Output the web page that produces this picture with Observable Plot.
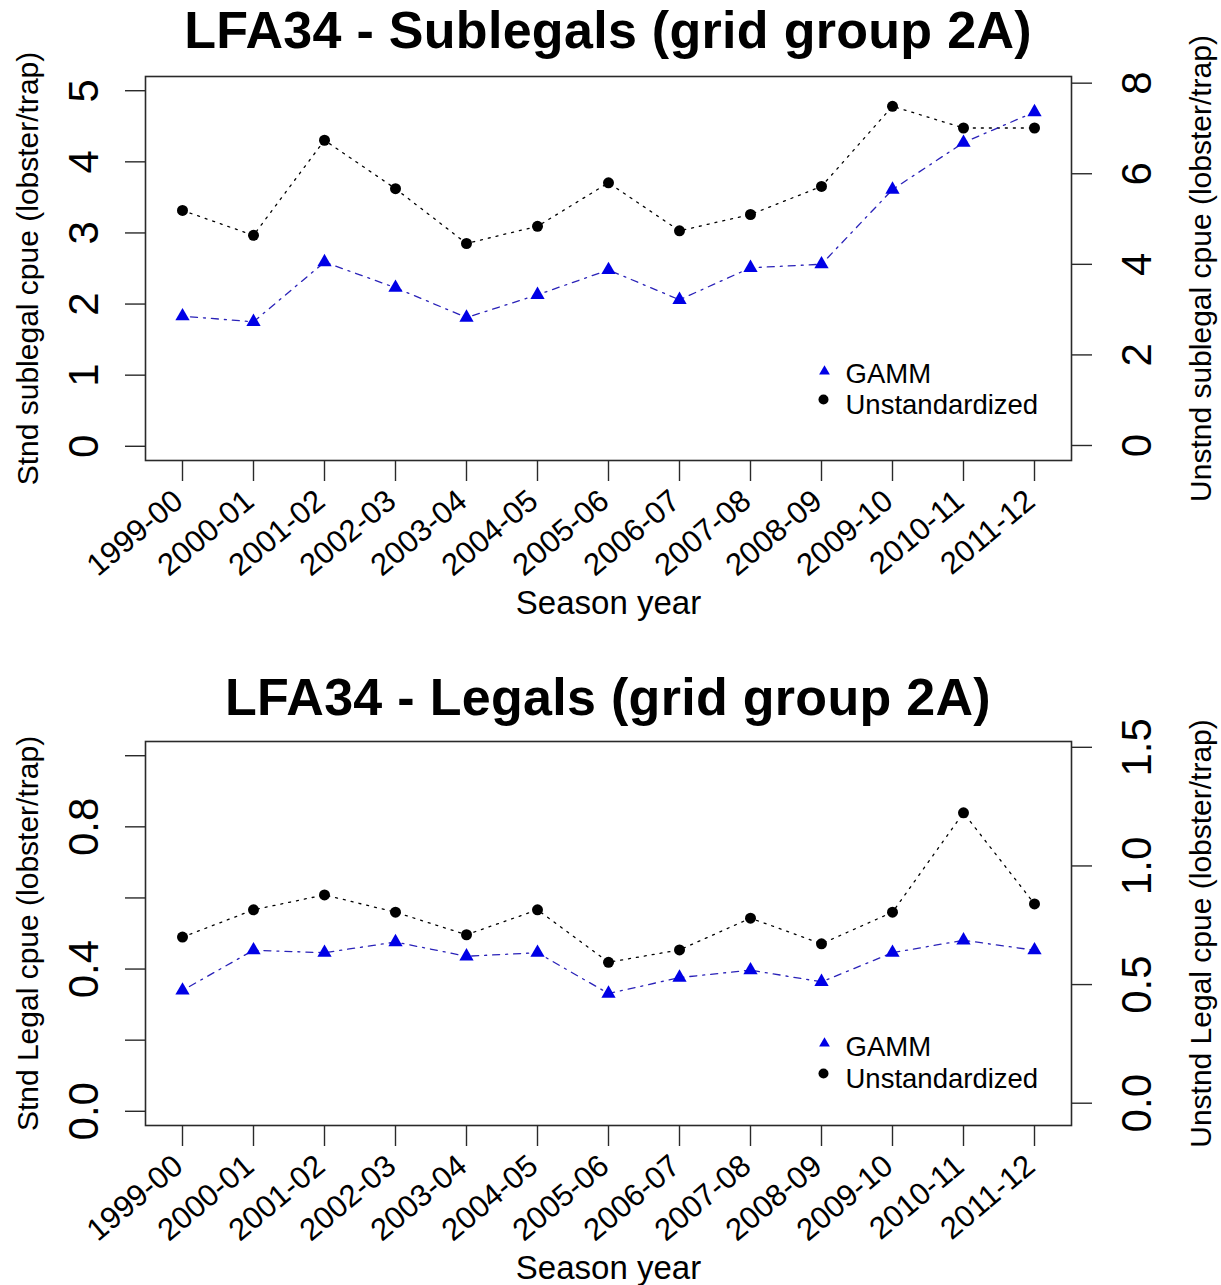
<!DOCTYPE html>
<html><head><meta charset="utf-8">
<script src="https://cdn.jsdelivr.net/npm/d3@7"></script>
<script src="https://cdn.jsdelivr.net/npm/@observablehq/plot@0.6"></script>
<style>
body{margin:0;background:#fff;width:1221px;height:1285px;position:relative;overflow:hidden;font-family:"Liberation Sans",Arial,sans-serif}
.title{position:absolute;left:0;width:1216px;text-align:center;font-weight:bold;font-size:52px;line-height:52px;letter-spacing:0.3px;color:#000;white-space:nowrap}
.panel{position:absolute;left:0}
</style></head><body>
<div class="title" style="top:4px">LFA34 - Sublegals (grid group 2A)</div>
<div class="panel" id="p1" style="top:62px"></div>
<div class="title" style="top:671px">LFA34 - Legals (grid group 2A)</div>
<div class="panel" id="p2" style="top:727px"></div>
<script>
const seasons = ["1999-00","2000-01","2001-02","2002-03","2003-04","2004-05","2005-06","2006-07","2007-08","2008-09","2009-10","2010-11","2011-12"];

// Sublegals
const subGamm  = [1.83, 1.75, 2.59, 2.23, 1.81, 2.13, 2.48, 2.06, 2.51, 2.56, 3.61, 4.27, 4.70];
const subUnstd = [5.19, 4.64, 6.74, 5.67, 4.46, 4.84, 5.80, 4.74, 5.10, 5.72, 7.49, 7.01, 7.01];
const subLeftTicks = [0, 1, 2, 3, 4, 5];
const subLeftLabels = ["0", "1", "2", "3", "4", "5"];
const subRightTicks = [0, 2, 4, 6, 8];
const subRightLabels = ["0", "2", "4", "6", "8"];

// Legals
const legGamm  = [0.340, 0.453, 0.446, 0.476, 0.436, 0.446, 0.331, 0.376, 0.397, 0.364, 0.446, 0.481, 0.453];
const legUnstd = [0.700, 0.815, 0.878, 0.805, 0.710, 0.815, 0.594, 0.646, 0.780, 0.672, 0.805, 1.224, 0.840];
const legLeftTicks = [0, 0.2, 0.4, 0.6, 0.8, 1.0];
const legLeftLabels = ["0.0", "", "0.4", "", "0.8", ""];
const legRightTicks = [0, 0.5, 1.0, 1.5];
const legRightLabels = ["0.0", "0.5", "1.0", "1.5"];

const legendNames = ["GAMM", "Unstandardized"];

const FONT = "Liberation Sans, Arial, sans-serif";

function panel(o) {
  const H = o.H;
  const data = seasons.map((s, i) => ({season: s, gamm: o.gamm[i], unstd: o.toLeft(o.unstd[i])}));
  const lg = o.legend;
  return Plot.plot({
    width: 1221, height: H,
    marginTop: 14, marginBottom: H - 398, marginLeft: 145, marginRight: 150,
    style: {fontFamily: FONT, background: "white", overflow: "visible", color: "#000"},
    x: {type: "point", domain: seasons, padding: 0.5},
    y: {domain: o.leftDomain},
    marks: [
      Plot.frame({stroke: "#2a2a2a", strokeWidth: 1.6}),
      Plot.axisX({ticks: seasons, tickSize: 21, tickFormat: () => "", stroke: "#2a2a2a", strokeWidth: 1.4, label: null}),
      Plot.text(seasons, {x: d => d, frameAnchor: "bottom", dx: -4, dy: 36, rotate: -40, textAnchor: "end", lineAnchor: "middle", fontSize: 31, fill: "#000"}),
      Plot.axisY({anchor: "left", ticks: o.leftTicks, tickSize: 20, tickFormat: () => "", stroke: "#2a2a2a", strokeWidth: 1.4, label: null}),
      Plot.text(o.leftTicks, {y: d => d, text: (d, i) => o.leftLabels[i], frameAnchor: "left", dx: -48, rotate: -90, textAnchor: "middle", lineAnchor: "bottom", fontSize: 42, fill: "#000"}),
      Plot.axisY({anchor: "right", ticks: o.rightTicks.map(o.toLeft), tickSize: 20, tickFormat: () => "", stroke: "#2a2a2a", strokeWidth: 1.4, label: null}),
      Plot.text(o.rightTicks, {y: d => o.toLeft(d), text: (d, i) => o.rightLabels[i], frameAnchor: "right", dx: 79, rotate: -90, textAnchor: "middle", lineAnchor: "bottom", fontSize: 42, fill: "#000"}),
      Plot.line(data, {x: "season", y: "unstd", stroke: "#000", strokeWidth: 1.3, strokeDasharray: "2,6"}),
      Plot.line(data, {x: "season", y: "gamm", stroke: "#2a22b8", strokeWidth: 1.3, strokeDasharray: "2,6,7,6"}),
      Plot.dot(data, {x: "season", y: "unstd", r: 5.5, fill: "#000", symbol: "circle"}),
      Plot.dot(data, {x: "season", y: "gamm", r: 5.3, fill: "#0000e6", symbol: "triangle"}),
      Plot.text([o.ylab], {frameAnchor: "left", dx: -108, rotate: -90, textAnchor: "middle", lineAnchor: "bottom", fontSize: 30, fill: "#000"}),
      Plot.text([o.ylab2], {frameAnchor: "right", dx: 139, rotate: -90, textAnchor: "middle", lineAnchor: "bottom", fontSize: 30, fill: "#000"}),
      Plot.text(["Season year"], {frameAnchor: "bottom", dy: 153, lineAnchor: "bottom", fontSize: 33, fill: "#000"}),
      // legend
      Plot.dot([0], {frameAnchor: "bottom-right", dx: -247, dy: lg.tri, r: 4, symbol: "triangle", fill: "#0000e6"}),
      Plot.dot([0], {frameAnchor: "bottom-right", dx: -248, dy: lg.cir, r: 5, symbol: "circle", fill: "#000"}),
      Plot.text([legendNames[0]], {frameAnchor: "bottom-right", dx: -226, dy: lg.t1, textAnchor: "start", lineAnchor: "bottom", fontSize: 27.5, fill: "#000"}),
      Plot.text([legendNames[1]], {frameAnchor: "bottom-right", dx: -226, dy: lg.t2, textAnchor: "start", lineAnchor: "bottom", fontSize: 27.5, fill: "#000"})
    ]
  });
}

document.getElementById("p1").appendChild(panel({
  H: 578,
  gamm: subGamm, unstd: subUnstd,
  leftDomain: [-0.2, 5.2],
  leftTicks: subLeftTicks, leftLabels: subLeftLabels,
  rightTicks: subRightTicks, rightLabels: subRightLabels,
  toLeft: v => 0.011 + 0.6369 * v,
  ylab: "Stnd sublegal cpue (lobster/trap)",
  ylab2: "Unstnd sublegal cpue (lobster/trap)",
  legend: {tri: -89, cir: -61, t1: -78, t2: -47}
}));

document.getElementById("p2").appendChild(panel({
  H: 558,
  gamm: legGamm, unstd: legUnstd,
  leftDomain: [-0.04, 1.04],
  leftTicks: legLeftTicks, leftLabels: legLeftLabels,
  rightTicks: legRightTicks, rightLabels: legRightLabels,
  toLeft: v => 0.0227 + 0.6673 * v,
  ylab: "Stnd Legal cpue (lobster/trap)",
  ylab2: "Unstnd Legal cpue (lobster/trap)",
  legend: {tri: -82, cir: -52, t1: -70, t2: -38}
}));
</script>
</body></html>
